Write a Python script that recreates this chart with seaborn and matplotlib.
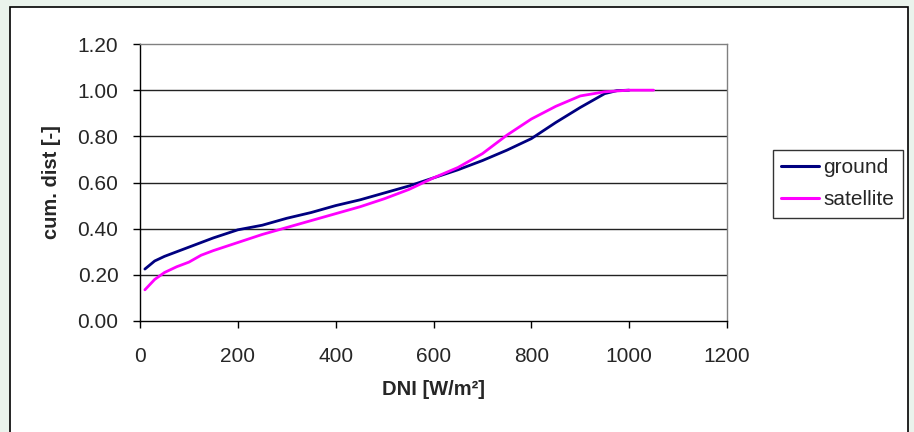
import matplotlib
matplotlib.use("Agg")
import matplotlib.pyplot as plt
import matplotlib.patches as mpatches
import seaborn as sns
import pandas as pd

# data
ground_x = [10, 30, 50, 100, 150, 200, 250, 300, 350, 400, 450, 500, 550, 600,
            650, 700, 750, 800, 850, 900, 950, 975, 1000]
ground_y = [0.225, 0.26, 0.28, 0.32, 0.36, 0.395, 0.415, 0.445, 0.47, 0.50, 0.525,
            0.555, 0.585, 0.62, 0.655, 0.695, 0.74, 0.79, 0.86, 0.925, 0.985, 0.998, 1.0]
sat_x = [10, 30, 50, 75, 100, 125, 150, 200, 250, 300, 350, 400, 450, 500, 550,
         600, 650, 700, 750, 800, 850, 900, 950, 1000, 1050]
sat_y = [0.135, 0.18, 0.21, 0.235, 0.255, 0.285, 0.305, 0.34, 0.375, 0.405, 0.435,
         0.465, 0.495, 0.53, 0.57, 0.62, 0.665, 0.725, 0.805, 0.875, 0.93, 0.975,
         0.993, 1.0, 1.0]
series_names = ["ground", "satellite"]
colors = ["#000080", "#FF00FF"]
x_ticks = [0, 200, 400, 600, 800, 1000, 1200]
y_ticks = [0.0, 0.2, 0.4, 0.6, 0.8, 1.0, 1.2]

df = pd.concat([
    pd.DataFrame({"DNI": ground_x, "cum": ground_y, "series": series_names[0]}),
    pd.DataFrame({"DNI": sat_x, "cum": sat_y, "series": series_names[1]}),
])

sns.set_theme(style="white")
plt.rcParams["font.family"] = ["Liberation Sans", "DejaVu Sans"]

FS = 15
W, H = 914, 432
fig = plt.figure(figsize=(W / 100, H / 100), dpi=100)
fig.patch.set_facecolor("#EAF3EC")

# outer chart area (background axes)
bg = fig.add_axes([0, 0, 1, 1], zorder=-10)
bg.set_xlim(0, W)
bg.set_ylim(H, 0)
bg.axis("off")
bg.add_patch(mpatches.Rectangle((10, 7), 908 - 10, 450, facecolor="white",
                                edgecolor="black", linewidth=1.2))

ax = fig.add_axes([140 / W, 1 - 321 / H, (727 - 140) / W, (321 - 44) / H], zorder=1)
ax.set_facecolor("white")

sns.lineplot(data=df, x="DNI", y="cum", hue="series", palette=colors,
             linewidth=2.0, ax=ax, legend=True, sort=False, estimator=None)

ax.set_xlim(0, 1200)
ax.set_ylim(0, 1.2)
ax.set_xticks(x_ticks)
ax.set_yticks(y_ticks)
ax.set_xticklabels([str(v) for v in x_ticks], fontsize=FS)
ax.set_yticklabels([f"{v:.2f}" for v in y_ticks], fontsize=FS)
ax.tick_params(axis="both", direction="out", length=5, width=1, color="black",
               bottom=True, left=True)
ax.tick_params(axis="x", pad=13.5)
ax.tick_params(axis="y", pad=10.5)

for v in y_ticks[1:-1]:
    ax.axhline(v, color="#222222", linewidth=1.0, zorder=0.5)

for s in ["left", "bottom"]:
    ax.spines[s].set_color("black")
    ax.spines[s].set_linewidth(1.0)
for s in ["top", "right"]:
    ax.spines[s].set_color("#808080")
    ax.spines[s].set_linewidth(1.0)

ax.set_xlabel("DNI [W/m²]", fontsize=14.5, fontweight="bold", labelpad=10)
ax.set_ylabel("cum. dist [-]", fontsize=14.5, fontweight="bold", labelpad=12)

leg = ax.legend(loc="upper left", bbox_to_anchor=(773 / W, 1 - 150 / H),
                bbox_transform=fig.transFigure, frameon=True, fancybox=False,
                fontsize=FS, handlelength=1.8, handletextpad=0.22,
                borderpad=0.4, labelspacing=0.62, borderaxespad=0, title=None)
leg.get_frame().set_edgecolor("black")
leg.get_frame().set_linewidth(1.0)
for h in leg.get_lines():
    h.set_linewidth(2.2)

fig.savefig("out.png", dpi=100, facecolor=fig.get_facecolor())
